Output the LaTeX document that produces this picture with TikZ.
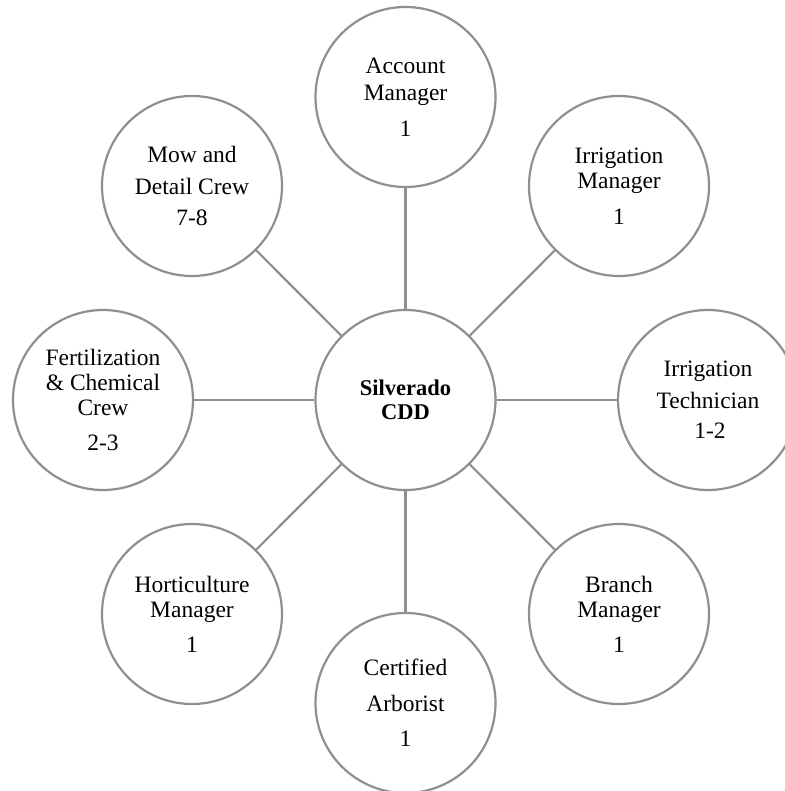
\documentclass[tikz,border=0pt]{standalone}
\usepackage{fontspec}
\setmainfont{Liberation Serif}
\definecolor{spokegray}{HTML}{8F8F8F}

\begin{document}
\begin{tikzpicture}[
  x=1pt,
  y=-1pt,
  every node/.style={font=\fontsize{23.5}{25}\selectfont, text=black},
  role/.style={circle, draw=spokegray, line width=2.2pt, fill=white,
    minimum size=180pt, inner sep=0pt, align=center},
  hubrole/.style={role, font=\fontsize{22.5}{24}\selectfont\bfseries},
  spoke/.style={spokegray, line width=2.2pt}
]
  % ---- page frame, in pixels of the reference ----
  \useasboundingbox (0,0) rectangle (784,791);

  % ---- centre ----
  \node[hubrole] (hub) at (405.5,400) {Silverado\\CDD};

  % ---- ring of roles ----
  \node[role] (acct)    at (405.5,97)  {Account\\[2pt]Manager\\[11pt]1};
  \node[role] (irrmgr)  at (619,186)   {Irrigation\\Manager\\[11pt]1};
  \node[role] (irrtech) at (708,400)   {Irrigation\\[7pt]Technician\\[5pt]\hspace*{4pt}1-2};
  \node[role] (branch)  at (619,614)   {Branch\\Manager\\[10pt]1};
  \node[role] (arbor)   at (405.5,703) {Certified\\[11pt]Arborist\\[10pt]1};
  \node[role] (hort)    at (192,614)   {Horticulture\\Manager\\[10pt]1};
  \node[role] (fert)    at (103,400)   {Fertilization\\\&~Chemical\\Crew\\[10pt]2-3};
  \node[role] (mow)     at (192,186)   {Mow and\\[7pt]Detail Crew\\[6pt]7-8};

  % ---- spokes ----
  \draw[spoke] (hub) -- (acct);
  \draw[spoke] (hub) -- (irrmgr);
  \draw[spoke] (hub) -- (irrtech);
  \draw[spoke] (hub) -- (branch);
  \draw[spoke] (hub) -- (arbor);
  \draw[spoke] (hub) -- (hort);
  \draw[spoke] (hub) -- (fert);
  \draw[spoke] (hub) -- (mow);
\end{tikzpicture}
\end{document}
